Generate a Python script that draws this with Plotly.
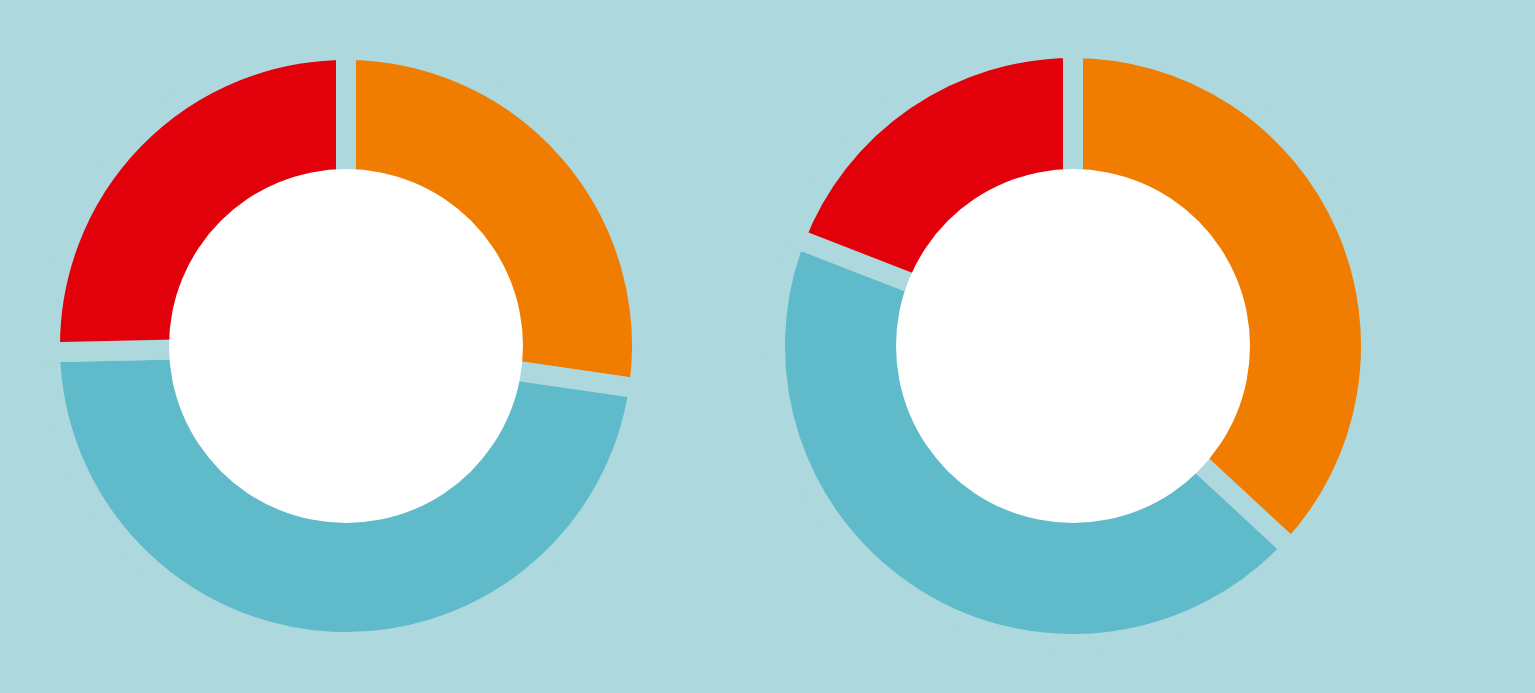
import plotly.graph_objects as go

W, H = 1535, 693
BG = "#ADD8DE"

labels = ["Orange", "Teal", "Red"]
colors = ["#F07C00", "#5FBACA", "#E2000B"]
left_values = [27.3, 47.37, 25.33]
right_values = [36.9, 44.0, 19.1]

GAP = 20

def domain(cx, cy, r):
    return dict(x=[(cx - r) / W, (cx + r) / W],
                y=[1 - (cy + r) / H, 1 - (cy - r) / H])

fig = go.Figure()

for vals, cx, cy, r_out in [(left_values, 346, 346, 286), (right_values, 1073, 346, 288)]:
    r = r_out + GAP / 2
    fig.add_trace(go.Pie(
        labels=labels, values=vals, sort=False, direction="clockwise", rotation=0,
        marker=dict(colors=colors, line=dict(color=BG, width=GAP)),
        hole=0.5, textinfo="none", hoverinfo="skip", showlegend=False,
        domain=domain(cx, cy, r),
    ))
for cx, cy, r_in in [(346, 346, 177), (1073, 346, 177)]:
    fig.add_trace(go.Pie(
        labels=["center"], values=[1], sort=False,
        marker=dict(colors=["#FFFFFF"], line=dict(width=0)),
        textinfo="none", hoverinfo="skip", showlegend=False,
        domain=domain(cx, cy, r_in),
    ))

fig.update_layout(
    width=W, height=H, margin=dict(l=0, r=0, t=0, b=0),
    paper_bgcolor=BG, plot_bgcolor=BG,
)

fig.write_html("out.html", config={"displayModeBar": False},
               post_script="document.body.style.margin='0';document.body.style.overflow='hidden';")
